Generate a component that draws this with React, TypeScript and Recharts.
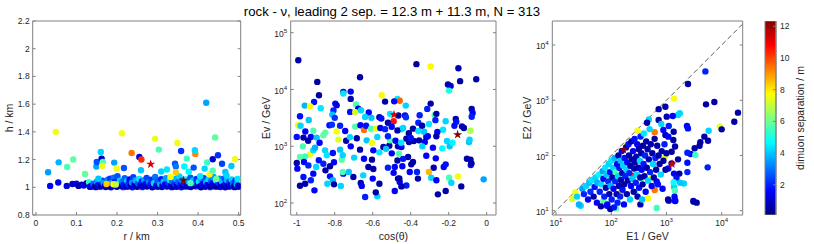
import React from 'react';
import { ScatterChart, Scatter, XAxis, YAxis, ReferenceLine, BarChart, Bar, Symbols } from 'recharts';

type Pt = [number, number, number];

// ---------- data: [x, y, dimuon separation (m)] ----------
// panel 1: r (km) vs h (km)
const radiusDepth: Pt[] = [
  [0.030,1.108,3.5],[0.035,1.010,1.6],[0.049,1.400,7.6],[0.056,1.180,3.8],[0.055,1.034,1.4],
  [0.077,1.146,5.6],[0.076,1.010,1.2],[0.092,1.200,5.8],[0.090,1.024,0.9],[0.100,1.026,1.3],
  [0.105,1.010,0.6],[0.113,1.018,0.8],[0.118,1.012,1.6],[0.125,1.030,0.7],[0.121,1.096,5.9],
  [0.131,1.036,5.2],[0.141,1.008,1.5],
  [0.135,1.003,1.6],[0.148,1.001,0.4],[0.158,1.005,2.0],[0.172,1.002,0.8],[0.185,1.000,1.6],
  [0.200,1.004,0.5],[0.215,1.001,2.2],[0.227,1.006,0.9],[0.238,1.000,1.8],[0.250,1.003,0.4],
  [0.262,1.001,2.4],[0.274,1.005,1.0],[0.287,1.000,0.5],[0.299,1.004,1.9],[0.311,1.002,0.7],
  [0.322,1.006,2.6],[0.335,1.001,1.2],[0.347,1.003,0.4],[0.358,1.000,2.0],[0.370,1.005,0.8],
  [0.382,1.002,1.6],[0.395,1.006,2.8],[0.407,1.000,0.6],[0.418,1.004,1.4],[0.430,1.001,2.2],
  [0.442,1.005,0.5],[0.455,1.002,1.8],[0.467,1.000,0.9],[0.478,1.004,2.4],[0.490,1.001,0.6],
  [0.500,1.003,1.6],
  [0.133,1.004,0.8],[0.137,1.012,1.6],[0.142,1.025,2.8],[0.146,1.008,0.6],[0.150,1.040,3.4],
  [0.153,1.014,1.2],[0.157,1.022,2.0],[0.160,1.006,0.7],[0.164,1.047,2.4],[0.167,1.030,3.6],
  [0.170,1.010,1.0],[0.173,1.019,1.8],[0.177,1.055,3.2],[0.180,1.008,0.5],[0.183,1.062,2.2],
  [0.186,1.030,3.9],[0.189,1.013,1.4],[0.192,1.070,3.0],[0.195,1.040,2.0],[0.198,1.007,0.9],
  [0.201,1.080,2.6],[0.204,1.024,1.2],[0.207,1.048,4.2],[0.210,1.010,0.6],[0.213,1.038,3.0],
  [0.216,1.016,1.8],[0.219,1.065,2.8],[0.222,1.006,1.0],[0.225,1.046,4.0],[0.228,1.022,2.2],
  [0.231,1.056,1.6],[0.234,1.012,0.7],[0.237,1.034,3.4],[0.240,1.072,2.4],[0.243,1.018,1.3],
  [0.246,1.049,3.8],[0.249,1.007,0.5],[0.252,1.028,2.6],[0.255,1.060,4.4],[0.258,1.014,1.1],
  [0.261,1.042,2.0],[0.264,1.008,0.8],[0.267,1.052,3.6],[0.270,1.024,1.5],[0.273,1.068,2.4],
  [0.276,1.010,0.6],[0.279,1.036,3.2],[0.282,1.018,1.9],[0.285,1.054,2.2],[0.288,1.006,0.9],
  [0.291,1.030,4.2],[0.294,1.074,3.0],[0.297,1.014,1.4],[0.300,1.048,2.6],[0.303,1.008,0.5],
  [0.306,1.024,3.6],[0.309,1.058,2.0],[0.312,1.012,1.0],[0.315,1.040,4.0],[0.318,1.020,1.6],
  [0.321,1.066,3.4],[0.324,1.007,0.7],[0.327,1.032,2.4],[0.330,1.052,4.4],[0.333,1.014,1.2],
  [0.336,1.044,3.0],[0.339,1.006,0.6],[0.342,1.026,2.2],[0.345,1.062,3.8],[0.348,1.010,1.0],
  [0.351,1.038,2.8],[0.354,1.078,4.2],[0.357,1.018,1.7],[0.360,1.050,3.2],[0.363,1.008,0.5],
  [0.366,1.028,2.0],[0.369,1.056,4.6],[0.372,1.014,1.3],[0.375,1.042,3.6],[0.378,1.006,0.8],
  [0.381,1.070,2.6],[0.384,1.022,1.5],[0.387,1.048,4.0],[0.390,1.010,0.6],[0.393,1.032,3.0],
  [0.396,1.060,2.2],[0.399,1.016,1.1],[0.402,1.040,4.4],[0.405,1.007,0.7],[0.408,1.054,3.4],
  [0.411,1.024,1.8],[0.414,1.066,2.4],[0.417,1.012,0.9],[0.420,1.036,3.8],[0.423,1.018,1.4],
  [0.426,1.058,4.2],[0.429,1.008,0.6],[0.432,1.044,2.8],[0.435,1.028,1.6],[0.438,1.074,3.6],
  [0.441,1.014,1.0],[0.444,1.050,4.6],[0.447,1.006,0.5],[0.450,1.034,2.2],[0.453,1.062,3.2],
  [0.456,1.020,1.3],[0.459,1.042,4.0],[0.462,1.010,0.8],[0.465,1.064,2.6],[0.468,1.026,1.7],
  [0.471,1.052,3.8],[0.474,1.007,0.6],[0.477,1.038,2.4],[0.480,1.016,1.2],[0.483,1.056,4.2],
  [0.486,1.030,3.0],[0.489,1.009,0.7],[0.492,1.048,2.0],[0.495,1.022,3.6],[0.497,1.060,4.4],
  [0.499,1.012,1.0],
  [0.149,1.150,3.6],[0.150,1.183,2.6],[0.160,1.255,4.2],[0.162,1.207,1.0],[0.165,1.183,5.6],
  [0.163,1.154,7.6],[0.154,1.062,4.0],[0.174,1.024,8.4],[0.191,1.022,7.6],[0.197,1.020,7.0],
  [0.193,1.178,3.6],[0.199,1.135,7.6],[0.212,1.390,7.6],[0.217,1.139,2.6],[0.236,1.247,9.4],
  [0.255,1.219,1.2],[0.260,1.200,10.3],[0.259,1.123,4.0],[0.294,1.349,7.6],[0.303,1.272,5.6],
  [0.309,1.114,4.2],[0.349,1.320,7.6],[0.358,1.262,2.2],[0.343,1.171,2.6],[0.345,1.150,3.0],
  [0.345,1.108,8.4],[0.332,1.074,7.6],[0.372,1.207,5.4],[0.366,1.150,4.6],[0.323,1.128,4.4],
  [0.377,1.112,4.6],[0.389,1.142,2.6],[0.393,1.241,9.2],[0.392,1.267,4.2],[0.442,1.360,5.8],
  [0.449,1.231,2.2],[0.436,1.202,1.2],[0.422,1.180,5.4],[0.491,1.202,7.6],[0.482,1.154,4.0],
  [0.459,1.170,2.4],[0.416,1.135,4.2],[0.467,1.110,4.0],[0.428,1.094,7.8],[0.436,1.120,5.6],
  [0.420,1.610,3.6],[0.445,1.060,6.0],[0.381,1.030,5.6],[0.405,1.080,4.4],[0.470,1.085,4.2]
];
const radiusDepthStars: Pt[] = [[0.283,1.166,11.3],[0.364,1.050,12.3]];

// panel 2: cos(theta) vs Ev (GeV)
const zenithEnergy: Pt[] = [
  [-0.992,32700,0.6],[-0.892,13600,0.5],[-0.667,16400,0.5],[-0.883,7900,0.5],[-0.755,9060,0.6],
  [-0.755,8500,4.4],[-0.716,9180,1.6],[-0.716,6820,0.6],[-0.553,7900,7.8],[-0.535,6120,0.6],
  [-0.909,6030,1.8],[-0.958,5200,3.8],[-0.930,5060,7.6],[-0.874,4660,4.4],[-0.797,5640,1.6],
  [-0.790,5250,1.2],[-0.688,5420,5.6],[-0.676,4600,1.2],[-0.719,4030,1.8],[-0.692,3960,7.4],
  [-0.662,4300,4.2],[-0.621,3920,1.6],[-0.807,4250,2.0],[-0.813,3610,4.0],[-0.800,3160,2.2],
  [-0.983,3370,1.8],[-0.937,2910,4.0],[-0.640,3290,4.2],[-0.607,3160,4.0],[-0.565,3240,0.6],
  [-0.555,3090,1.8],[-0.509,3720,4.4],[-0.993,2340,7.6],[-0.980,2290,4.2],[-0.828,2340,1.8],
  [-0.815,2400,2.2],[-0.772,2290,2.0],[-0.745,1860,1.4],[-0.692,2220,5.6],[-0.665,2340,1.6],
  [-0.646,1940,9.4],[-0.635,2290,1.8],[-0.609,2040,5.6],[-0.583,2040,7.6],[-0.560,2090,1.4],
  [-0.535,2000,2.0],[-0.790,1820,7.6],[-0.850,1740,5.8],[-0.913,1880,5.6],[-0.955,1820,1.6],
  [-0.370,27900,0.5],[-0.295,25400,7.8],[-0.149,23700,0.8],[-0.055,15100,0.7],[-0.140,14000,0.5],
  [-0.204,12200,0.7],[-0.190,11500,0.9],[-0.198,9550,5.0],[-0.470,6820,4.4],[-0.458,6310,9.6],
  [-0.426,5200,4.2],[-0.487,6170,1.6],[-0.295,5640,0.6],[-0.313,4550,2.0],[-0.353,3510,2.0],
  [-0.079,4550,0.6],[-0.074,3860,1.6],[-0.079,3310,2.0],[-0.490,2750,10.6],[-0.465,3470,0.6],
  [-0.430,3470,1.6],[-0.425,3240,2.2],[-0.274,3510,5.6],[-0.265,3720,0.6],[-0.270,2880,2.0],
  [-0.304,2470,4.4],[-0.216,2750,4.2],[-0.163,3030,0.6],[-0.160,2690,1.8],[-0.130,2240,0.8],
  [-0.086,1880,6.8],[-0.388,2040,0.6],[-0.360,1860,4.4],[-0.230,1950,4.4],[-0.260,1780,1.6],
  [-0.450,2000,4.2],
  [-1.000,1460,1.8],[-0.965,1420,0.6],[-0.926,1460,1.6],[-0.895,1420,4.0],[-0.860,1560,5.8],
  [-0.781,1310,7.4],[-0.968,995,5.6],[-0.983,647,5.8],[-0.930,720,7.6],[-0.956,664,5.4],
  [-0.913,847,4.2],[-0.904,944,3.8],[-0.851,847,4.2],[-0.842,692,4.4],[-0.810,762,1.8],
  [-0.772,871,4.0],[-0.763,581,5.8],[-0.758,692,4.2],[-0.716,995,1.6],[-0.684,1380,0.6],
  [-0.667,871,0.6],[-0.632,1270,4.0],[-0.605,1140,7.6],[-0.576,1460,4.2],[-0.565,780,4.4],
  [-0.597,847,1.6],[-0.544,970,0.6],[-0.513,1020,0.6],[-0.509,1270,5.6],[-0.698,631,4.2],
  [-0.646,603,1.6],[-0.604,581,0.6],[-0.623,431,0.6],[-0.597,398,0.6],[-0.650,307,4.2],
  [-0.600,269,1.6],[-1.000,507,0.6],[-0.962,528,1.6],[-0.939,460,2.0],[-0.997,403,1.6],
  [-0.898,431,4.2],[-0.884,565,1.8],[-0.860,493,2.0],[-0.825,443,0.6],[-0.804,521,1.6],
  [-0.849,376,0.6],[-0.825,295,1.8],[-0.810,251,3.8],[-0.913,329,1.6],[-0.926,251,2.0],
  [-0.965,288,1.8],[-0.983,202,0.6],[-0.956,219,0.6],[-0.907,167,1.6],[-0.839,219,4.2],
  [-0.804,213,0.6],[-0.768,200,4.2],[-0.755,329,1.6],[-0.726,352,4.0],[-0.758,352,5.6],
  [-0.702,288,0.6],[-0.663,225,0.6],[-0.658,200,1.6],[-0.640,128,2.0],[-0.576,131,4.2],
  [-0.584,154,0.6],[-0.565,219,0.6],
  [-0.423,1360,0.6],[-0.409,1190,0.6],[-0.384,1240,0.6],[-0.356,1270,0.6],[-0.326,1190,1.6],
  [-0.318,1460,0.6],[-0.265,1500,0.6],[-0.209,1240,4.2],[-0.195,995,4.0],[-0.234,918,4.6],
  [-0.283,944,1.6],[-0.339,995,4.2],[-0.467,995,0.6],[-0.449,970,1.6],[-0.462,741,5.6],
  [-0.414,647,0.6],[-0.388,528,0.6],[-0.397,480,0.6],[-0.318,682,1.6],[-0.268,612,1.6],
  [-0.093,1190,4.0],[-0.104,603,0.6],[-0.084,468,1.8],[-0.279,419,0.6],[-0.226,431,1.6],
  [-0.216,480,1.8],[-0.444,443,1.6],[-0.484,431,1.6],[-0.405,352,1.6],[-0.367,352,2.0],
  [-0.304,352,8.6],[-0.292,279,4.2],[-0.265,251,1.6],[-0.362,269,0.6],[-0.467,269,0.6],
  [-0.458,234,1.6],[-0.423,204,2.0],[-0.449,196,0.6],[-0.484,163,1.6],[-0.198,280,5.6],
  [-0.151,295,7.6],[-0.186,228,4.2],[-0.134,196,0.6],[-0.016,261,3.6],[-0.216,163,0.6],
  [-0.257,142,0.6],
  [-0.520,2600,0.6],[-0.500,2200,1.6],[-0.470,1900,0.6],[-0.440,2100,4.2],[-0.410,1700,0.6],
  [-0.520,1500,2.0],[-0.480,1250,1.6],[-0.450,1150,4.4],[-0.400,1400,1.8],[-0.530,900,4.0],
  [-0.500,750,1.6],[-0.470,560,0.6],[-0.440,600,1.8],[-0.520,420,2.0],[-0.490,340,1.6],
  [-0.460,270,0.6],[-0.360,2600,2.0],[-0.340,2300,0.6],[-0.330,1800,4.0],[-0.310,1500,1.6],
  [-0.170,2300,1.8],[-0.120,2100,0.6],[-0.090,1300,4.2],[-0.180,1150,4.6],[-0.080,500,0.6],
  [-0.085,580,0.6],[-0.740,1250,0.6],[-0.720,1450,4.2],[-0.880,1150,1.6],[-0.940,1250,0.6]
];
const zenithEnergyStars: Pt[] = [[-0.488,3600,11.3],[-0.153,1600,12.3]];

// panel 3: E1 (GeV) vs E2 (GeV)
const muonEnergies: Pt[] = [
  [5060,3330,2.0],[2450,1970,0.6],[1370,1070,7.6],[5200,843,0.6],[7360,929,0.6],
  [19700,596,0.6],[16900,409,0.6],[9310,332,7.4],[9980,297,0.6],[5800,281,4.2],
  [4850,219,0.6],[5650,185,0.6],[4100,173,0.6],[3980,150,0.6],[3240,135,0.6],
  [2740,106,1.6],[3330,102,5.4],[2390,112,2.0],[2390,74,1.8],[2390,50,2.0],
  [5570,61,2.0],[2070,31,4.2],[3060,15,0.6],[3520,14,0.6],[1430,15,1.6],[1070,16,0.6],
  [722,690,0.6],[955,764,0.6],[1740,581,4.2],[1620,541,4.2],[1300,519,1.6],[480,450,4.2],
  [722,438,0.6],[807,372,4.2],[1100,342,2.0],[445,392,0.6],[2350,342,1.6],[2450,309,1.8],
  [612,263,9.4],[300,280,7.6],[955,235,0.6],[1350,269,0.6],
  [1010,504,0.6],[877,289,1.6],[1080,219,1.6],[1330,190,0.6],[1430,145,0.6],[1240,117,0.6],
  [1620,85,0.6],[1240,72,0.6],[1080,58,1.6],[1370,47,1.6],[1710,47,0.6],[1520,39,1.8],
  [1760,32,4.0],[1370,27,4.2],[1420,23,5.6],[1400,18,1.6],[664,34,1.6],
  [248,43,10.4],[612,23.7,9.4],[463,16.8,7.6],[148,20.7,8.4],[193,155,7.4],[332,147,5.8],
  [212,89,7.4],[289,84,5.6],[955,97,7.4],[111,55,7.6],[100,38.6,5.6],[351,38.6,5.6],
  [532,38.6,7.6],[1350,32.7,4.8],[273,21.5,5.6],[72,15,5.8],[122,11,5.6],[665,11.2,5.4],
  [22.4,21.5,7.6],[19.5,16.3,7.4],[28,12.3,4.2],[84,12.3,1.6],[96,10.7,0.6],[337,13,0.6],
  [1100,15.2,0.6],[1445,15.2,1.6],[3110,14.6,0.6],
  [24,18,4.2],[26,13,3.8],[30,25,3.6],[32,20,2.0],[35,28,4.2],[38,16,1.6],[40,32,4.0],
  [42,22,2.2],[45,36,4.4],[48,18,0.6],[50,27,1.8],[52,40,4.2],[55,14,1.6],[56,32,3.8],
  [60,45,4.6],[62,22,2.0],[65,12,0.6],[66,30,4.2],[70,52,3.6],[72,38,1.6],[75,18,2.0],
  [78,60,4.4],[80,26,0.6],[82,45,4.0],[85,13,1.6],[88,34,2.2],[90,70,4.2],[92,20,0.6],
  [95,50,1.8],[98,28,3.8],[100,80,4.4],[102,16,2.0],[105,40,0.6],[108,60,4.2],[110,25,1.6],
  [112,11.5,1.8],[115,90,3.8],[118,34,2.0],[120,50,5.6],[125,20,0.6],[128,70,1.6],[130,14,2.0],
  [132,42,4.2],[135,100,0.6],[138,28,0.6],[140,60,1.8],[145,18,2.0],[148,80,4.0],[150,36,0.6],
  [155,120,1.6],[158,48,0.6],[160,24,1.8],[165,65,4.2],[170,13,1.6],[172,30,0.6],[175,90,1.8],
  [180,42,2.0],[185,140,0.6],[188,55,4.2],[192,20,0.6],[195,75,1.6],[200,35,0.6],[205,160,1.8],
  [210,100,0.6],[212,48,2.0],[218,16,4.2],[222,65,0.6],[228,28,1.6],[232,180,0.6],[238,85,0.6],
  [242,38,4.0],[248,120,1.6],[255,22,0.6],[260,58,0.6],[265,200,1.8],[270,75,0.6],[278,32,2.0],
  [285,95,0.6],[290,45,4.2],[295,160,1.6],[300,18,0.6],[310,60,0.6],[315,130,0.6],[320,26,1.8],
  [330,80,4.2],[335,40,0.6],[340,220,2.0],[350,110,0.6],[355,55,1.6],[362,16,4.0],[370,30,0.6],
  [375,150,0.6],[385,70,1.8],[390,250,4.4],[400,42,0.6],[410,100,2.0],[420,22,1.6],[430,180,0.6],
  [440,60,0.6],[455,130,0.6],[465,35,4.2],[480,85,0.6],[495,300,4.2],[505,50,2.0],[520,160,0.6],
  [540,28,1.6],[555,110,0.6],[570,70,4.2],[590,40,0.6],[610,200,0.6],[630,90,2.0],[650,55,0.6],
  [680,150,0.6],[700,30,1.8],[720,100,0.6],[750,70,0.6],[790,45,4.2],[820,120,0.6],[850,25,1.6],
  [880,80,0.6],[920,160,2.0],[960,55,0.6],[1000,110,0.6]
];
const muonEnergyStars: Pt[] = [[168,127,12.3],[1260,70,11.3]];

const rTicks = [0, 0.1, 0.2, 0.3, 0.4, 0.5];
const hTicks = [0.8, 1, 1.2, 1.4, 1.6, 1.8, 2, 2.2];
const cosTicks = [-1, -0.8, -0.6, -0.4, -0.2, 0];
const evTicks = [100, 1000, 10000, 100000];
const e1Ticks = [10, 100, 1000, 10000];
const e2Ticks = [10, 100, 1000, 10000];
const sepTicks = [2, 4, 6, 8, 10, 12];
const SEP_MIN = 0.1;
const SEP_MAX = 12.33;

// ---------- styling ----------
const FONT = '"Liberation Sans", Arial, Helvetica, sans-serif';
const TICK_FS = 8.5;
const LABEL_FS = 10.5;
const TEXT = '#262626';
const AX = { stroke: '#808080', strokeWidth: 1 };
const H = 244;

function jet(s: number): string {
  const t = Math.min(1, Math.max(0, (s - SEP_MIN) / (SEP_MAX - SEP_MIN)));
  const f = (c: number) => Math.round(255 * Math.min(1, Math.max(0, 1.5 - Math.abs(4 * t - c))));
  return `rgb(${f(3)},${f(2)},${f(1)})`;
}

const tickStyle = { fontSize: TICK_FS, fill: TEXT, fontFamily: FONT };

const linTick = (side: 'left' | 'bottom' | 'right') => (p: any) => {
  const v = p.payload.value;
  if (side === 'bottom')
    return <text x={p.x} y={p.y} dy="0.71em" textAnchor="middle" {...tickStyle}>{String(v)}</text>;
  return (
    <text x={p.x} y={p.y} dy="0.35em" textAnchor={side === 'left' ? 'end' : 'start'} {...tickStyle}>{String(v)}</text>
  );
};

const logTick = (side: 'left' | 'bottom') => (p: any) => {
  const n = Math.round(Math.log10(p.payload.value));
  if (side === 'bottom')
    return (
      <text x={p.x} y={p.y} dy="0.71em" textAnchor="middle" {...tickStyle}>
        10<tspan dy={-4} fontSize={6.2}>{n}</tspan>
      </text>
    );
  return (
    <text x={p.x} y={p.y} dy="0.5em" textAnchor="end" {...tickStyle}>
      10<tspan dy={-4} fontSize={6.2}>{n}</tspan>
    </text>
  );
};

const blankTick = () => <g />;

const dotShape = (p: any) =>
  p.cx == null ? <g /> : <circle cx={p.cx} cy={p.cy} r={3.2} fill={jet(p.payload.s)} />;
const starShape = (p: any) =>
  p.cx == null ? <g /> : <Symbols type="star" size={26} cx={p.cx} cy={p.cy} fill={jet(p.payload.s)} />;

interface PanelProps {
  left: number;
  width: number;
  yAxisWidth: number;
  rightGap: number;
  pts: Pt[];
  stars: Pt[];
  xDomain: [number, number];
  yDomain: [number, number];
  xTicks: number[];
  yTicks: number[];
  xLog?: boolean;
  yLog?: boolean;
  diagonal?: [number, number];
}

function Panel(p: PanelProps) {
  const data = p.pts.map(([x, y, s]) => ({ x, y, s }));
  const starData = p.stars.map(([x, y, s]) => ({ x, y, s }));
  const xs = p.xLog ? 'log' : 'linear';
  const ys = p.yLog ? 'log' : 'linear';
  return (
    <div style={{ position: 'absolute', left: p.left, top: 0 }}>
      <ScatterChart width={p.width} height={H} margin={{ top: 20, right: p.rightGap - 1, bottom: 0, left: 0 }}>
        <XAxis xAxisId={0} type="number" dataKey="x" scale={xs} domain={p.xDomain} allowDataOverflow
          ticks={p.xTicks} interval={0} height={29} tickSize={-3} tickMargin={7.5}
          tick={p.xLog ? logTick('bottom') : linTick('bottom')} axisLine={AX} tickLine={AX} />
        <XAxis xAxisId="top" orientation="top" type="number" scale={xs} domain={p.xDomain} allowDataOverflow
          ticks={p.xTicks} interval={0} height={1} tickSize={-3} tick={blankTick} axisLine={AX} tickLine={AX} />
        <YAxis yAxisId={0} type="number" dataKey="y" scale={ys} domain={p.yDomain} allowDataOverflow
          ticks={p.yTicks} interval={0} width={p.yAxisWidth} tickSize={-3} tickMargin={p.yLog ? 6.5 : 6}
          tick={p.yLog ? logTick('left') : linTick('left')} axisLine={AX} tickLine={AX} />
        <YAxis yAxisId="right" orientation="right" type="number" scale={ys} domain={p.yDomain} allowDataOverflow
          ticks={p.yTicks} interval={0} width={1} tickSize={-3} tick={blankTick} axisLine={AX} tickLine={AX} />
        {p.diagonal && (
          <ReferenceLine
            segment={[{ x: p.diagonal[0], y: p.diagonal[0] }, { x: p.diagonal[1], y: p.diagonal[1] }]}
            stroke="#333" strokeWidth={0.8} strokeDasharray="5 3" ifOverflow="visible" />
        )}
        <Scatter data={data} shape={dotShape} isAnimationActive={false} />
        <Scatter data={starData} shape={starShape} isAnimationActive={false} />
      </ScatterChart>
    </div>
  );
}

function ColorBar() {
  const data = [{ name: 'sep', range: [SEP_MIN, SEP_MAX] }];
  const stops = [0, 0.125, 0.375, 0.625, 0.875, 1];
  return (
    <div style={{ position: 'absolute', left: 756, top: 0 }}>
      <BarChart width={58} height={H} data={data} margin={{ top: 21, right: 0, bottom: 29, left: 9 }}
        barCategoryGap={0} barGap={0}>
        <defs>
          <linearGradient id="jetGrad" x1="0" y1="1" x2="0" y2="0">
            {stops.map((o) => (
              <stop key={o} offset={o} stopColor={jet(SEP_MIN + o * (SEP_MAX - SEP_MIN))} />
            ))}
          </linearGradient>
        </defs>
        <XAxis dataKey="name" hide />
        <YAxis orientation="right" type="number" domain={[SEP_MIN, SEP_MAX]} allowDataOverflow ticks={sepTicks}
          interval={0} width={38} tickSize={-3} tickMargin={7} tick={linTick('right')} axisLine={AX} tickLine={AX} />
        <Bar dataKey="range" fill="url(#jetGrad)" stroke="#808080" strokeWidth={1} isAnimationActive={false} />
      </BarChart>
    </div>
  );
}

export default function App() {
  const lab = { fontSize: LABEL_FS, fill: TEXT, fontFamily: FONT, textAnchor: 'middle' as const };
  return (
    <div style={{ position: 'fixed', left: 0, top: 0, width: 814, height: 244, background: '#fff', overflow: 'hidden' }}>
      <Panel left={0} width={250} yAxisWidth={32.7} rightGap={9.3} pts={radiusDepth} stars={radiusDepthStars}
        xDomain={[-0.008, 0.505]} yDomain={[0.8, 2.2]} xTicks={rTicks} yTicks={hTicks} />
      <Panel left={250} width={256} yAxisWidth={40.7} rightGap={10} pts={zenithEnergy} stars={zenithEnergyStars}
        xDomain={[-1.032, 0.049]} yDomain={[61.5, 160700]} xTicks={cosTicks} yTicks={evTicks} yLog />
      <Panel left={506} width={250} yAxisWidth={46.3} rightGap={13.3} pts={muonEnergies} stars={muonEnergyStars}
        xDomain={[8.57, 23990]} yDomain={[8.36, 27200]} xTicks={e1Ticks} yTicks={e2Ticks} xLog yLog
        diagonal={[8.6, 23900]} />
      <ColorBar />
      <svg width={814} height={244} style={{ position: 'absolute', left: 0, top: 0, pointerEvents: 'none' }}>
        <text x={392} y={16} fontSize={13.2} fill="#000" fontFamily={FONT} textAnchor="middle">
          rock - ν, leading 2 sep. = 12.3 m + 11.3 m, N = 313
        </text>
        <text x={136.7} y={240} {...lab}>r / km</text>
        <text x={393.4} y={240} {...lab}>cos(θ)</text>
        <text x={647.5} y={240} {...lab}>E1 / GeV</text>
        <text x={12.5} y={118} {...lab} transform="rotate(-90 12.5 118)">h / km</text>
        <text x={269.5} y={118} {...lab} transform="rotate(-90 269.5 118)">Ev / GeV</text>
        <text x={530.5} y={118} {...lab} transform="rotate(-90 530.5 118)">E2 / GeV</text>
        <text x={804} y={118} {...lab} transform="rotate(-90 804 118)">dimuon separation / m</text>
      </svg>
    </div>
  );
}
